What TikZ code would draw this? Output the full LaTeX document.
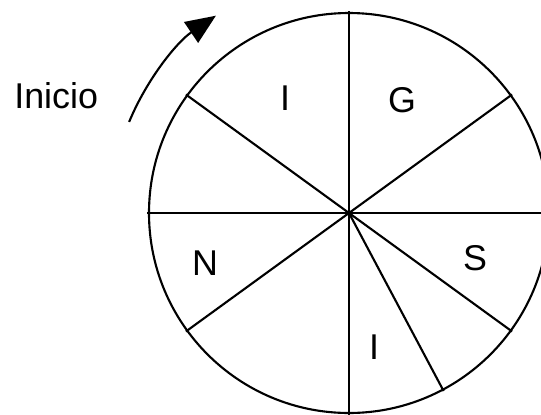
\documentclass[tikz,border=0pt]{standalone}
\usepackage{fontspec}
\setmainfont{Liberation Sans}
\usepackage{tikz}
\usetikzlibrary{arrows.meta}

\begin{document}
\begin{tikzpicture}[
    line width=1.5pt,
    spoke/.style={draw, line width=1.5pt},
    letter/.style={font=\fontsize{25.5}{30}\selectfont, inner sep=0pt}
]

    % Frame
    \clip (-8.725,-5.025) rectangle (4.8,5.325);

    % Wheel
    \coordinate (c) at (0,0);
    \draw (c) circle (5);

    % Spokes
    \foreach \a in {0,36,90,144,180,216,270,324,298} {
        \draw[spoke] (c) -- ++(\a:5.04);
    }

    % Letters
    \node[letter] (l1) at (-1.6,2.875) {I};
    \node[letter] (l2) at (1.325,2.825) {G};
    \node[letter] (l3) at (3.15,-1.125) {S};
    \node[letter] (l4) at (0.625,-3.35) {I};
    \node[letter] (l5) at (-3.6,-1.25) {N};

    % Start direction
    \node[letter] (start) at (-7.32,2.925) {Inicio};
    \draw[-{Triangle[length=0.75cm,width=0.62cm]}] (c) ++(157.5:5.95) arc (157.5:124:5.95);

\end{tikzpicture}
\end{document}
